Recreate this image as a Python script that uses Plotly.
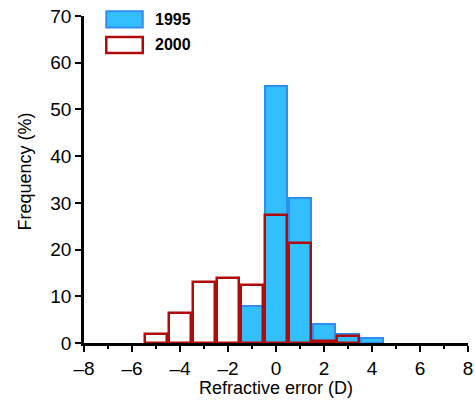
import plotly.graph_objects as go

centers_1995 = [-1, 0, 1, 2, 3, 4]
freq_1995 = [8, 55, 31, 4, 2, 1]
centers_2000 = [-5, -4, -3, -2, -1, 0, 1, 2, 3]
freq_2000 = [2, 6.5, 13, 14, 12.5, 27.5, 21.5, 0.5, 1.5]
x_ticks = [-8, -6, -4, -2, 0, 2, 4, 6, 8]
x_tick_labels = ["–8", "–6", "–4", "–2", "0", "2", "4", "6", "8"]
y_ticks = [0, 10, 20, 30, 40, 50, 60, 70]
legend_labels = ["1995", "2000"]
x_title = "Refractive error (D)"
y_title = "Frequency (%)"

FONT = "Liberation Sans, Arial, sans-serif"
BLUE_FILL = "#33BEFD"
BLUE_LINE = "#2E8FF0"
RED = "#B00A0A"

fig = go.Figure()
fig.add_trace(go.Bar(x=centers_1995, y=freq_1995, width=0.9,
                     marker=dict(color=BLUE_FILL, line=dict(color=BLUE_LINE, width=2)),
                     showlegend=False, hoverinfo="skip"))
fig.add_trace(go.Bar(x=centers_2000, y=freq_2000, width=0.88,
                     marker=dict(color="rgba(0,0,0,0)", line=dict(color=RED, width=2.5)),
                     showlegend=False, hoverinfo="skip"))

# custom legend (paper coords)
fig.add_shape(type="rect", xref="paper", yref="paper", x0=0.058, x1=0.153, y0=0.965, y1=1.0145,
              fillcolor=BLUE_FILL, line=dict(color=BLUE_LINE, width=2))
fig.add_shape(type="rect", xref="paper", yref="paper", x0=0.058, x1=0.153, y0=0.887, y1=0.936,
              fillcolor="white", line=dict(color=RED, width=2.5))
fig.add_annotation(xref="paper", yref="paper", x=0.18, y=0.99, text="<b>%s</b>" % legend_labels[0],
                   showarrow=False, xanchor="left", yanchor="middle",
                   font=dict(family=FONT, size=16, color="black"))
fig.add_annotation(xref="paper", yref="paper", x=0.18, y=0.912, text="<b>%s</b>" % legend_labels[1],
                   showarrow=False, xanchor="left", yanchor="middle",
                   font=dict(family=FONT, size=16, color="black"))

# axis titles
fig.add_annotation(xref="paper", yref="paper", x=0.5, y=-0.137, text=x_title,
                   showarrow=False, xanchor="center", yanchor="middle",
                   font=dict(family=FONT, size=18, color="black"))
fig.add_annotation(xref="paper", yref="paper", x=-0.154, y=0.524, text=y_title, textangle=-90,
                   showarrow=False, xanchor="center", yanchor="middle",
                   font=dict(family=FONT, size=18, color="black"))

fig.update_layout(
    width=475, height=407,
    margin=dict(l=84, r=7, t=16, b=64),
    plot_bgcolor="white", paper_bgcolor="white",
    barmode="overlay", bargap=0,
    font=dict(family=FONT, size=19, color="black"),
    xaxis=dict(range=[-8, 8], tickvals=x_ticks, ticktext=x_tick_labels, automargin=False,
               ticklabeloverflow="allow",
               showline=True, linecolor="black", linewidth=2.5,
               ticks="outside", ticklen=6, tickwidth=2, tickcolor="black",
               minor=dict(dtick=1, tick0=-8, ticks="outside", ticklen=3, tickwidth=2, tickcolor="black", showgrid=False),
               showgrid=False, zeroline=False),
    yaxis=dict(range=[0, 70], tickvals=y_ticks, automargin=False,
               ticklabeloverflow="allow",
               showline=True, linecolor="black", linewidth=2.5,
               ticks="outside", ticklen=6, tickwidth=2, tickcolor="black",
               showgrid=False, zeroline=False),
)

fig.write_html("out.html", config={"displayModeBar": False},
               post_script="document.body.style.margin='0';document.body.style.overflow='hidden';")
